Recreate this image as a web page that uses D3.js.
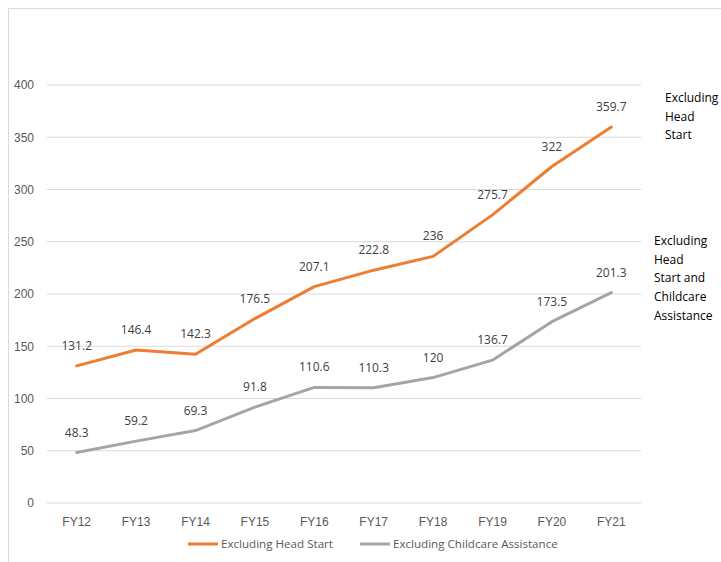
<!DOCTYPE html>
<html>
<head>
<meta charset="utf-8">
<script src="https://cdn.jsdelivr.net/npm/d3@7"></script>
<style>
  body { margin: 0; background: #fff; }
  svg { display: block; font-family: "Open Sans", "Noto Sans", sans-serif; }
</style>
</head>
<body>
<div id="chart"></div>
<script>
const years = ['FY12', 'FY13', 'FY14', 'FY15', 'FY16', 'FY17', 'FY18', 'FY19', 'FY20', 'FY21']
const headStart = [131.2, 146.4, 142.3, 176.5, 207.1, 222.8, 236, 275.7, 322, 359.7]
const childcare = [48.3, 59.2, 69.3, 91.8, 110.6, 110.3, 120, 136.7, 173.5, 201.3]
const yTicks = [0, 50, 100, 150, 200, 250, 300, 350, 400]

const series = [
  { name: 'Excluding Head Start', values: headStart, color: '#ED7D31',
    note: ['Excluding', 'Head', 'Start'], noteX: 665, noteY: 98 },
  { name: 'Excluding Childcare Assistance', values: childcare, color: '#A5A5A5',
    note: ['Excluding', 'Head', 'Start and', 'Childcare', 'Assistance'], noteX: 654, noteY: 241 },
]

const width = 721, height = 562
const svg = d3.select('#chart').append('svg')
  .attr('width', width)
  .attr('height', height)

// chart frame (clipped on the right / bottom like the source)
svg.append('path')
  .attr('d', 'M8.5,562 V8.5 H721')
  .attr('fill', 'none')
  .attr('stroke', '#d9d9d9')

const x = d3.scaleBand(years, [47, 641])
const y = d3.scaleLinear([0, 400], [503, 85])

// grid
svg.append('g')
  .selectAll('line')
  .data(yTicks)
  .join('line')
  .attr('x1', 47).attr('x2', 641)
  .attr('y1', d => y(d)).attr('y2', d => y(d))
  .attr('stroke', '#d9d9d9')
  .attr('stroke-width', 1)

const yAxis = svg.append('g')
  .attr('transform', 'translate(34,0)')
  .call(d3.axisLeft(y).tickValues(yTicks).tickSize(0).tickPadding(0))
yAxis.select('.domain').remove()
yAxis.selectAll('text')
  .attr('fill', '#595959')
  .attr('font-size', 12)

const xAxis = svg.append('g')
  .attr('transform', 'translate(0,514)')
  .call(d3.axisBottom(x).tickSize(0).tickPadding(3))
xAxis.select('.domain').remove()
xAxis.selectAll('text')
  .attr('fill', '#595959')
  .attr('font-size', 12)

const cx = d => x(d) + x.bandwidth() / 2
const line = d3.line()
  .x((d, i) => cx(years[i]))
  .y(d => y(d))

series.forEach(s => {
  svg.append('path')
    .datum(s.values)
    .attr('d', line)
    .attr('fill', 'none')
    .attr('stroke', s.color)
    .attr('stroke-width', 3)
    .attr('stroke-linejoin', 'round')
    .attr('stroke-linecap', 'round')

  svg.append('g')
    .selectAll('text')
    .data(s.values)
    .join('text')
    .attr('x', (d, i) => cx(years[i]))
    .attr('y', d => y(d) - 16)
    .attr('text-anchor', 'middle')
    .attr('fill', '#404040')
    .attr('font-size', 12)
    .text(d => d)

  svg.append('text')
    .attr('fill', '#000')
    .attr('font-size', 12)
    .selectAll('tspan')
    .data(s.note)
    .join('tspan')
    .attr('x', s.noteX)
    .attr('y', (d, i) => s.noteY + 4 + i * 18.7)
    .text(d => d)
})

// legend
const legend = svg.append('g').attr('transform', 'translate(0,544)')
const legendX = [188, 360]
series.forEach((s, i) => {
  legend.append('line')
    .attr('x1', legendX[i]).attr('x2', legendX[i] + 30)
    .attr('stroke', s.color)
    .attr('stroke-width', 3)
  legend.append('text')
    .attr('x', legendX[i] + 33)
    .attr('dy', '0.35em')
    .attr('fill', '#595959')
    .attr('font-size', 11.6)
    .text(s.name)
})
</script>
</body>
</html>
